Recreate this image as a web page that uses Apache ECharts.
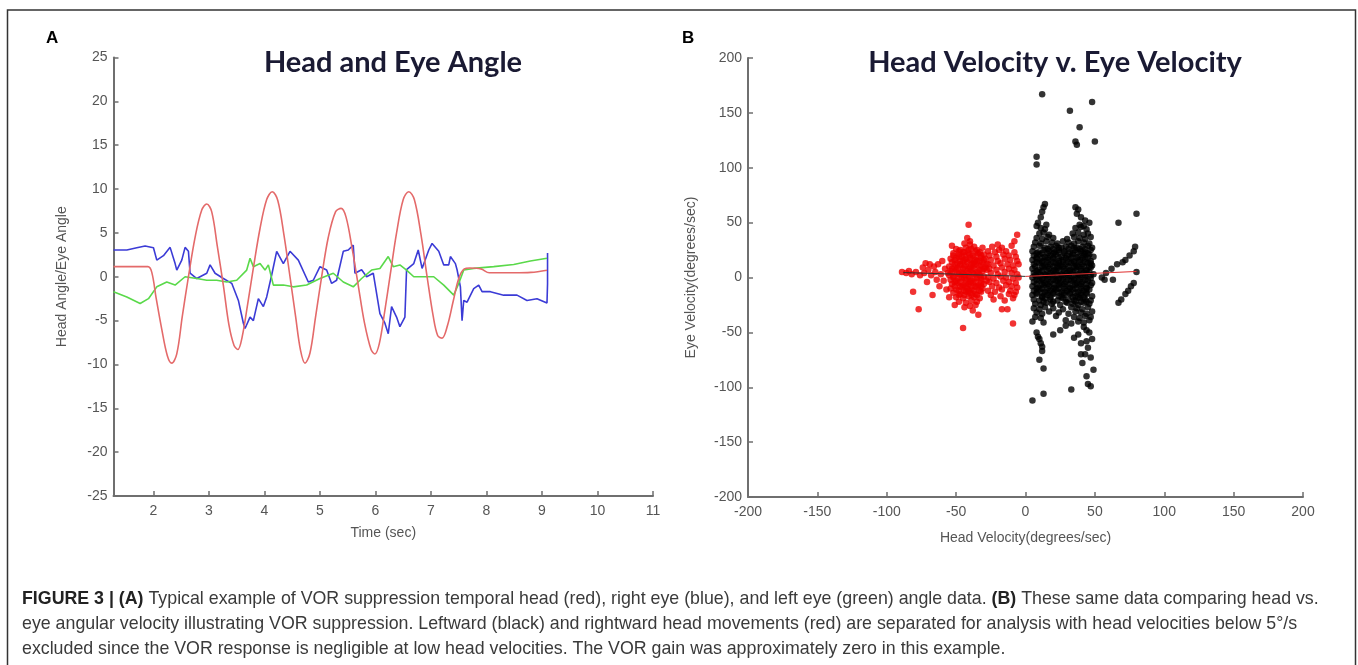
<!DOCTYPE html>
<html>
<head>
<meta charset="utf-8">
<script src="https://cdn.jsdelivr.net/npm/echarts@6/dist/echarts.min.js"></script>
</head>
<body style="margin:0;background:#fff">
<div id="container" style="width:1358px;height:665px"></div>
<script type="text/javascript">

// panel A: time (sec) vs angle
var headAngle = [
    [1.28,1.15],[1.9,1.15],[1.97,0.5],[2.05,-2.5],[2.15,-6],[2.25,-9],[2.33,-9.85],[2.42,-8.8],[2.52,-4.5],
    [2.63,0],[2.75,4.5],[2.87,7.6],[2.96,8.3],[3.05,7.4],[3.15,3.5],[3.26,-1],[3.36,-5.5],[3.45,-7.8],
    [3.52,-8.3],[3.6,-6.8],[3.7,-3],[3.8,1],[3.92,5.5],[4.04,8.8],[4.14,9.7],[4.24,8.7],[4.35,4.8],
    [4.46,0],[4.56,-4.5],[4.65,-8.4],[4.73,-9.85],[4.82,-8.7],[4.92,-4.6],[5.03,0],[5.15,4.5],[5.28,7.4],
    [5.38,7.8],[5.47,6.8],[5.58,3.2],[5.69,-1],[5.8,-5.2],[5.92,-8.3],[5.99,-8.8],[6.07,-7.6],[6.17,-3.8],
    [6.27,0.4],[6.38,5],[6.5,8.8],[6.6,9.7],[6.7,8.8],[6.82,4.8],[6.93,0],[7.04,-4.5],[7.12,-6.7],
    [7.2,-7.0],[7.3,-5.5],[7.4,-2.8],[7.5,-0.2],[7.6,0.9],[7.7,1.0],[7.9,0.9],[8.05,0.45],[8.5,0.45],
    [8.8,0.5],[9.09,0.75]
];
var rightEye = [
    [1.28,3.05],[1.52,3.05],[1.7,3.3],[1.85,3.5],[2.0,3.3],[2.06,1.9],[2.18,2.4],[2.3,3.35],[2.39,1.5],
    [2.42,0.76],[2.51,1.9],[2.57,3.35],[2.63,2.9],[2.66,0.4],[2.78,-0.2],[2.96,0.4],[3.02,1.35],[3.11,0.4],
    [3.26,-0.2],[3.41,-0.75],[3.53,-2.7],[3.62,-5.3],[3.65,-5.9],[3.74,-4.6],[3.8,-5],[3.89,-2.5],
    [3.98,-3.4],[4.04,-2.3],[4.13,0.2],[4.22,2.9],[4.34,1.5],[4.46,2.9],[4.61,1.9],[4.79,-0.6],[4.88,-0.4],
    [5.0,1.15],[5.12,0.76],[5.21,-0.76],[5.3,-0.4],[5.42,2.9],[5.51,3.05],[5.6,3.6],[5.63,0.4],[5.75,0.8],
    [5.84,0],[5.96,0.4],[6.08,-4.2],[6.17,-5.3],[6.23,-6.5],[6.29,-3.4],[6.38,-4.6],[6.44,-5.7],[6.53,-4.6],
    [6.56,0.8],[6.69,1.5],[6.77,3.05],[6.84,0.95],[6.96,3.05],[7.02,3.8],[7.14,2.9],[7.23,1.35],[7.32,1.35],
    [7.35,2.3],[7.44,1.5],[7.47,0.8],[7.53,-1.15],[7.56,-5.0],[7.59,-2.7],[7.65,-2.9],[7.77,-1.35],
    [7.86,-0.95],[7.92,-1.7],[8.07,-1.7],[8.31,-2.1],[8.55,-2.1],[8.73,-2.7],[8.91,-2.5],[9.09,-3.0],
    [9.1,-0.8],[9.1,2.7]
];
var leftEye = [
    [1.28,-1.7],[1.52,-2.3],[1.76,-3.05],[1.91,-2.5],[2.06,-1.15],[2.24,-0.6],[2.39,-0.95],[2.57,0],
    [2.78,-0.2],[2.96,-0.4],[3.14,-0.4],[3.32,-0.6],[3.5,-0.4],[3.68,0.76],[3.74,2.1],[3.8,1.15],[3.92,1.5],
    [4.01,0.76],[4.07,1.35],[4.16,-0.95],[4.34,-0.95],[4.52,-1.15],[4.76,-0.95],[5.0,-0.2],[5.24,0.4],
    [5.42,-0.6],[5.6,-1.15],[5.75,-0.2],[5.93,0.76],[6.08,0.95],[6.23,2.3],[6.32,1.15],[6.44,1.35],
    [6.56,0.76],[6.69,0],[6.87,0],[7.05,0],[7.23,-0.95],[7.41,-2.1],[7.5,-0.76],[7.59,0.76],[7.77,0.95],
    [8.13,1.15],[8.49,1.4],[8.79,1.8],[9.09,2.1]
];
var timeTicks = [2, 3, 4, 5, 6, 7, 8, 9, 10, 11];

// panel B: head velocity vs eye velocity (deg/sec)
var rightwardPts = [
    [-89,5],[-86,4],[-84,6],[-82,3],[-81,-13],[-79,5],[-77,-29],[-76,2],[-74,9],[-73,4],[-72,13],[-71,-4],
    [-70,7],[-69,12],[-68,2],[-67,-16],[-66,10],[-65,5],[-64,-2],[-63,12],[-62,-8],[-61,3],[-60,15],
    [-59,-3],[-58,8],[-57,-11],[-56,4],[-55,-18],
    [-53,29],[-44,31],[-40,30],[-37,28],
    [-50,26],[-47,25],[-43,27],[-39,26],[-35,25],[-31,27],
    [-52,22],[-48,21],[-45,23],[-41,22],[-38,20],[-34,22],[-30,21],
    [-54,17],[-50,18],[-46,19],[-43,17],[-40,18],[-36,16],[-32,18],[-29,17],
    [-53,14],[-49,13],[-45,15],[-42,14],[-38,13],[-35,15],[-31,14],[-28,12],
    [-55,10],[-51,9],[-47,11],[-44,10],[-40,9],[-37,11],[-33,10],[-29,9],
    [-54,6],[-50,7],[-46,5],[-42,6],[-39,7],[-35,5],[-31,6],[-28,7],
    [-55,2],[-52,1],[-48,3],[-44,2],[-41,1],[-37,3],[-33,2],[-30,1],
    [-54,-2],[-50,-3],[-46,-1],[-43,-2],[-39,-3],[-35,-1],[-32,-2],[-28,-3],
    [-53,-6],[-49,-5],[-45,-7],[-41,-6],[-38,-5],[-34,-7],[-30,-6],
    [-54,-10],[-50,-11],[-46,-9],[-42,-10],[-39,-11],[-35,-9],[-31,-10],
    [-52,-14],[-47,-15],[-43,-13],[-40,-14],[-36,-15],[-32,-13],
    [-50,-18],[-45,-19],[-41,-17],[-37,-18],[-33,-19],
    [-48,-22],[-43,-23],[-39,-21],[-35,-22],
    [-51,-25],[-44,-27],[-40,-26],[-36,-25],
    [-48,24],[-44,23],[-41,25],[-36,24],[-33,23],
    [-52,20],[-48,19],[-44,20],[-40,21],[-36,19],[-32,20],
    [-51,16],[-47,15],[-44,16],[-40,16],[-37,14],[-33,15],[-30,16],
    [-51,12],[-47,12],[-43,11],[-39,12],[-36,12],[-32,11],
    [-53,8],[-49,8],[-45,8],[-41,8],[-37,8],[-33,7],[-30,8],
    [-53,4],[-49,4],[-45,4],[-41,4],[-38,4],[-34,4],
    [-52,0],[-48,0],[-44,0],[-40,-1],[-36,0],[-32,0],
    [-51,-4],[-47,-4],[-43,-5],[-40,-4],[-36,-4],[-32,-5],
    [-51,-8],[-47,-8],[-43,-8],[-39,-8],[-36,-8],[-32,-8],
    [-48,-12],[-44,-12],[-41,-12],[-37,-12],[-33,-12],
    [-48,-16],[-44,-16],[-39,-16],[-35,-16],
    [-41,48],[-42,36],[-40,33],[-45,-46],[-34,-34],[-38,-30],
    [-24,28],[-17,27],[-10,29],
    [-27,24],[-22,23],[-19,25],[-14,24],[-8,23],
    [-26,20],[-21,19],[-16,21],[-12,20],[-7,19],
    [-25,16],[-20,15],[-15,17],[-11,16],[-6,15],
    [-27,12],[-23,11],[-18,13],[-13,12],[-9,11],[-5,12],
    [-26,8],[-21,7],[-17,9],[-12,8],[-8,7],
    [-25,4],[-20,3],[-15,5],[-10,4],[-6,3],
    [-27,0],[-23,-1],[-18,1],[-14,0],[-9,-1],[-5,0],
    [-26,-4],[-21,-5],[-16,-3],[-12,-4],[-7,-5],
    [-24,-8],[-19,-9],[-14,-7],[-10,-8],[-6,-9],
    [-27,-12],[-22,-13],[-17,-11],[-11,-12],[-7,-13],
    [-25,-16],[-18,-17],[-12,-15],[-8,-16],
    [-23,-20],[-15,-21],[-9,-19],
    [-6,39],[-8,33],[-17,-29],[-13,-29],[-9,-42],[-20,30]
];
var leftwardPts = [
    [11,45],[14,44],[36,45],[40,46],[44,44],
    [10,40],[13,41],[17,39],[34,40],[38,41],[42,39],[45,40],
    [8,36],[12,35],[16,37],[20,36],[30,35],[35,37],[39,36],[43,35],[47,37],
    [7,32],[11,31],[15,33],[19,32],[23,31],[27,33],[31,32],[35,31],[38,33],[42,32],[46,31],
    [6,28],[10,29],[14,27],[18,28],[22,29],[26,27],[29,28],[33,29],[37,27],[41,28],[45,29],[48,27],
    [5,24],[9,23],[13,25],[17,24],[21,23],[24,25],[28,24],[32,23],[36,25],[40,24],[43,23],[47,25],
    [6,20],[10,21],[14,19],[18,20],[22,21],[26,19],[30,20],[34,21],[38,19],[42,20],[46,21],[49,19],
    [5,16],[8,17],[12,15],[16,16],[20,17],[24,15],[27,16],[31,17],[35,15],[39,16],[43,17],[47,15],
    [6,12],[10,13],[14,11],[18,12],[22,13],[25,11],[29,12],[33,13],[37,11],[41,12],[45,13],[48,11],
    [5,8],[9,7],[13,9],[17,8],[21,7],[24,9],[28,8],[32,7],[36,9],[40,8],[44,7],[47,9],
    [6,4],[10,5],[14,3],[18,4],[22,5],[26,3],[30,4],[34,5],[38,3],[42,4],[46,5],[49,3],
    [5,0],[8,1],[12,-1],[16,0],[20,1],[24,-1],[27,0],[31,1],[35,-1],[39,0],[43,1],[47,-1],
    [6,-4],[10,-3],[14,-5],[18,-4],[22,-3],[25,-5],[29,-4],[33,-3],[37,-5],[41,-4],[45,-3],[48,-5],
    [5,-8],[9,-9],[13,-7],[17,-8],[21,-9],[24,-7],[28,-8],[32,-9],[36,-7],[40,-8],[44,-9],[47,-7],
    [6,-12],[10,-11],[14,-13],[18,-12],[22,-11],[26,-13],[30,-12],[34,-11],[38,-13],[42,-12],[46,-11],
    [5,-16],[8,-15],[12,-17],[16,-16],[20,-15],[24,-17],[28,-16],[32,-15],[36,-17],[40,-16],[44,-15],[48,-17],
    [6,-20],[10,-21],[14,-19],[18,-20],[23,-21],[27,-19],[31,-20],[35,-21],[39,-19],[43,-20],[47,-21],
    [7,-24],[11,-25],[15,-23],[19,-24],[25,-25],[30,-23],[34,-24],[38,-25],[42,-23],[46,-24],
    [6,-28],[10,-29],[14,-27],[20,-28],[27,-29],[33,-27],[37,-28],[41,-29],[45,-27],
    [8,-32],[12,-33],[17,-31],[24,-32],[31,-33],[36,-31],[40,-32],[44,-33],[48,-31],
    [7,-36],[11,-37],[22,-35],[35,-36],[39,-37],[43,-35],[47,-36],
    [5,-40],[13,-41],[29,-39],[38,-40],[42,-41],[46,-39],
    [16,26],[20,26],[24,27],[31,26],[35,27],[39,26],[43,26],
    [8,22],[12,22],[16,22],[20,22],[24,23],[28,22],[34,22],[38,23],[42,22],[45,22],
    [8,18],[12,18],[16,18],[20,18],[24,18],[29,18],[33,18],[37,18],[41,18],[45,18],
    [8,14],[12,14],[16,14],[20,14],[24,13],[27,14],[31,14],[35,14],[39,14],[43,14],[47,13],
    [7,10],[12,10],[16,10],[20,10],[23,10],[27,10],[31,10],[35,10],[38,10],[42,10],[46,10],
    [8,6],[12,6],[16,6],[20,6],[24,6],[28,6],[32,6],[36,6],[40,6],[44,6],
    [7,2],[11,2],[15,2],[19,2],[23,2],[27,2],[31,2],[35,2],[39,2],[43,2],[47,2],
    [8,-2],[12,-2],[16,-2],[20,-2],[23,-2],[27,-2],[31,-2],[35,-2],[39,-2],[43,-2],
    [8,-6],[12,-6],[16,-6],[20,-6],[24,-6],[28,-6],[32,-6],[36,-6],[40,-6],[44,-6],
    [8,-10],[12,-10],[16,-10],[20,-10],[24,-10],[28,-10],[32,-10],[36,-10],[40,-10],[44,-10],
    [8,-14],[12,-14],[16,-14],[20,-14],[24,-14],[28,-14],[32,-14],[36,-14],[40,-14],[44,-14],
    [12,-18],[18,-18],[26,-18],[34,-18],[38,-18],[42,-18],
    [13,-22],[20,-22],[29,-22],[36,-22],[40,-22],[44,-22],
    [9,50],[11,55],[12,60],[13,64],[14,67],[8,47],[15,48],[36,64],[38,62],[37,58],[40,55],[43,52],
    [46,50],[39,48],[42,47],
    [8,-50],[9,-54],[10,-56],[11,-60],[12,-63],[12,-67],[10,-75],[13,-83],[5,-112],[13,-106],
    [35,-55],[38,-52],[40,-60],[42,-45],[44,-48],[46,-50],[45,-64],[43,-70],[40,-70],[47,-73],
    [49,-84],[44,-90],[45,-97],[47,-99],[33,-102],[20,-52],[25,-48],[29,-44],[33,-42],[41,-78],
    [44,-58],[48,-56],
    [67,50],[80,58],[79,28],[78,24],[75,20],[72,16],[70,14],[66,12],[62,8],[58,4],[57,-2],[55,0],
    [80,5],[78,-5],[76,-8],[74,-12],[72,-15],[69,-20],[67,-23],[63,-2],
    [12,167],[32,152],[48,160],[39,137],[36,124],[37,121],[50,124],[8,110],[8,103]
];
var leftwardFit = [[-88,4.5],[0,1]];
var rightwardFit = [[0,1],[80,5.5]];

var captionLines = [
    '{b|FIGURE 3 | (A)} Typical example of VOR suppression temporal head (red), right eye (blue), and left eye (green) angle data. {b|(B)} These same data comparing head vs.',
    'eye angular velocity illustrating VOR suppression. Leftward (black) and rightward head movements (red) are separated for analysis with head velocities below 5°/s',
    'excluded since the VOR response is negligible at low head velocities. The VOR gain was approximately zero in this example.'
];

var tickFont = 'Liberation Sans Narrow, Liberation Sans, sans-serif';
var captionFont = 'Liberation Sans, Arial, sans-serif';
var axisGray = '#6f6f6f';

function axisStyle(extra) {
    var base = {
        type: 'value',
        splitLine: {show: false},
        axisLine: {show: true, onZero: false, lineStyle: {color: axisGray, width: 2}},
        axisTick: {show: true, inside: true, length: 5, lineStyle: {color: axisGray, width: 1.5}},
        axisLabel: {color: '#555', fontSize: 14, fontFamily: tickFont, margin: 6},
        nameLocation: 'middle',
        nameTextStyle: {color: '#555', fontSize: 14, fontFamily: tickFont}
    };
    for (var k in extra) base[k] = extra[k];
    return base;
}

var dom = document.getElementById('container');
var myChart = echarts.init(dom);

var captionGraphics = captionLines.map(function (line, i) {
    return {
        type: 'text',
        left: 22,
        top: 590 + i * 25,
        style: {
            text: line,
            fill: '#3a3a3a',
            fontSize: 17.8,
            fontFamily: captionFont,
            rich: {
                b: {fontWeight: 'bold', fontSize: 17.8, fontFamily: captionFont, fill: '#222'}
            }
        }
    };
});

var option = {
    animation: false,
    backgroundColor: '#fff',
    title: [
        {text: 'A', left: 41, top: 25, textStyle: {fontSize: 17, fontWeight: 'bold', color: '#000', fontFamily: 'Liberation Sans'}},
        {text: 'B', left: 677, top: 25, textStyle: {fontSize: 17, fontWeight: 'bold', color: '#000', fontFamily: 'Liberation Sans'}},
        {text: 'Head and Eye Angle', left: 388, top: 43, textAlign: 'center',
            textStyle: {fontSize: 29, fontWeight: 'bold', color: '#1a1a33', fontFamily: 'Lato'}},
        {text: 'Head Velocity v. Eye Velocity', left: 1050, top: 43, textAlign: 'center',
            textStyle: {fontSize: 29, fontWeight: 'bold', color: '#1a1a33', fontFamily: 'Lato'}}
    ],
    graphic: [
        {type: 'rect', shape: {x: 7.5, y: 10, width: 1348, height: 700},
            style: {fill: 'none', stroke: '#333', lineWidth: 1.5}, silent: true}
    ].concat(captionGraphics),
    grid: [
        {left: 113.5, top: 57.5, width: 539.5, height: 438.5},
        {left: 748, top: 58, width: 555, height: 439}
    ],
    xAxis: [
        axisStyle({gridIndex: 0, min: 1.28, max: 11, name: 'Time (sec)', nameGap: 30,
            axisTick: {show: true, inside: true, length: 5, customValues: timeTicks, lineStyle: {color: axisGray, width: 1.5}},
            axisLabel: {color: '#555', fontSize: 14, fontFamily: tickFont, margin: 8, customValues: timeTicks}}),
        axisStyle({gridIndex: 1, min: -200, max: 200, interval: 50, name: 'Head Velocity(degrees/sec)', nameGap: 34,
            axisLabel: {color: '#555', fontSize: 14, fontFamily: tickFont, margin: 8}})
    ],
    yAxis: [
        axisStyle({gridIndex: 0, min: -25, max: 25, interval: 5, name: 'Head Angle/Eye Angle', nameGap: 44}),
        axisStyle({gridIndex: 1, min: -200, max: 200, interval: 50, name: 'Eye Velocity(degrees/sec)', nameGap: 50})
    ],
    series: [
        {name: 'head', type: 'line', xAxisIndex: 0, yAxisIndex: 0, data: headAngle, smooth: 0.35,
            showSymbol: false, lineStyle: {color: '#e46a6a', width: 1.6}, z: 3},
        {name: 'right eye', type: 'line', xAxisIndex: 0, yAxisIndex: 0, data: rightEye,
            showSymbol: false, lineStyle: {color: '#3b3bd6', width: 1.6}, z: 2},
        {name: 'left eye', type: 'line', xAxisIndex: 0, yAxisIndex: 0, data: leftEye,
            showSymbol: false, lineStyle: {color: '#5ad94a', width: 1.6}, z: 2},
        {name: 'rightward', type: 'scatter', xAxisIndex: 1, yAxisIndex: 1, data: rightwardPts,
            symbolSize: 6.5, itemStyle: {color: '#ee0000'}},
        {name: 'leftward', type: 'scatter', xAxisIndex: 1, yAxisIndex: 1, data: leftwardPts,
            symbolSize: 6.5, itemStyle: {color: '#000'}},
        {name: 'leftward fit', type: 'line', xAxisIndex: 1, yAxisIndex: 1, data: leftwardFit,
            showSymbol: false, lineStyle: {color: '#333', width: 1}, z: 4},
        {name: 'rightward fit', type: 'line', xAxisIndex: 1, yAxisIndex: 1, data: rightwardFit,
            showSymbol: false, lineStyle: {color: '#e03030', width: 1}, z: 4}
    ]
};

myChart.setOption(option);

</script>
</body>
</html>
